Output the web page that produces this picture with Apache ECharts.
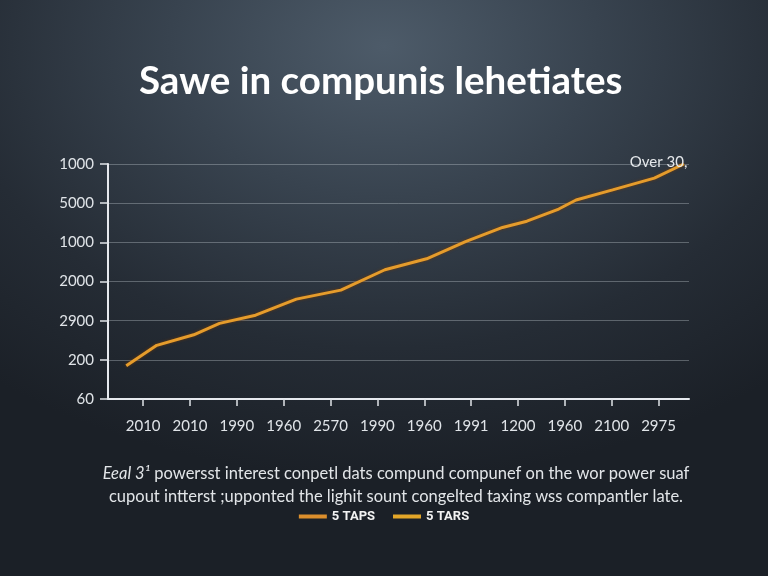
<!DOCTYPE html>
<html>
<head>
<meta charset="utf-8">
<script src="https://cdn.jsdelivr.net/npm/echarts@6/dist/echarts.min.js"></script>
<style>
html,body{margin:0;padding:0;width:768px;height:576px;overflow:hidden;
background:radial-gradient(ellipse 80% 75% at 50% 8%, #4d5b69 0%, #38434f 35%, #252c35 70%, #1b2027 100%);}
#c{width:768px;height:576px;}
</style>
</head>
<body>
<div id="c"></div>
<script>
// Tick labels (as printed in the reference)
const xLabels = ["2010","2010","1990","1960","2570","1990","1960","1991","1200","1960","2100","2975"];
const yLabels = ["60","200","2900","2000","1000","5000","1000"];
// Series "5 TAPS": [position along x categories, position along y scale]
const tapsX = [-0.36,0.29,1.08,1.63,2.40,3.27,4.22,5.16,6.05,6.88,7.67,8.19,8.87,9.24,10.02,10.91,11.54];
const tapsY = [0.85,1.37,1.64,1.93,2.14,2.55,2.78,3.30,3.58,4.02,4.38,4.54,4.85,5.08,5.34,5.64,6.00];
// Series "5 TARS" (legend only, no visible line)
const tarsY = [];
const titleText = "Sawe in compunis lehetiates";
const noteLine1 = "Eeal 3¹";
const noteLine1Rest = " powersst interest conpetl dats compund compunef on the wor power suaf";
const noteLine2 = "cupout intterst ;upponted the lighit sount congelted taxing wss compantler late.";
const endNote = "Over 30,";

const chart = echarts.init(document.getElementById('c'), null, {renderer:'canvas'});
const tapsData = tapsX.map((x,i)=>[x,tapsY[i]]);
const idx = xLabels.map((_,i)=>i);
chart.setOption({
  backgroundColor:'transparent',
  animation:false,
  title:{text:titleText, left:134, top:57,
    textStyle:{color:'#ffffff', fontSize:38.5, fontWeight:'bold', fontFamily:'Lato, sans-serif'}},
  graphic:[
    {type:'text', x:396, y:462, style:{
      text:'{i|'+noteLine1+'}'+noteLine1Rest+'\n'+noteLine2,
      rich:{i:{fontStyle:'italic', fontSize:16.5, fill:'#e2e5e8', fontFamily:'Lato, sans-serif'}},
      fill:'#e2e5e8', fontSize:16.5, lineHeight:23, align:'center', fontFamily:'Lato, sans-serif'}}
  ],
  legend:{bottom:48, left:'center', itemWidth:28, itemHeight:4, itemGap:18,
    icon:'rect',
    textStyle:{color:'#f2f2f2', fontSize:13, fontWeight:'bold', fontFamily:'Roboto, sans-serif'},
    data:['5 TAPS','5 TARS']},
  grid:{left:108, right:79, top:164, bottom:177, containLabel:false},
  xAxis:{type:'value', min:-0.75, max:11.65,
    axisLine:{show:true, onZero:false, lineStyle:{color:'#e6e9ee', width:2}},
    axisTick:{show:true, customValues:idx, length:7, lineStyle:{color:'#dfe3e8', width:1.5}},
    axisLabel:{show:true, customValues:idx, formatter:v=>xLabels[Math.round(v)],
      color:'#e0e4e8', fontSize:15, margin:20, fontFamily:'Lato, sans-serif'},
    splitLine:{show:false}},
  yAxis:{type:'value', min:0, max:6, interval:1,
    axisLine:{show:true, onZero:false, lineStyle:{color:'#e6e9ee', width:2}},
    axisTick:{show:true, length:8, lineStyle:{color:'#dfe3e8', width:1.5}},
    axisLabel:{formatter:v=>yLabels[Math.round(v)], color:'#e0e4e8', fontSize:15, margin:14,
      fontFamily:'Lato, sans-serif'},
    splitLine:{show:true, lineStyle:{color:'rgba(200,208,216,0.35)', width:1}}},
  series:[
    {name:'5 TAPS', type:'line', data:tapsData, showSymbol:false, symbol:'none',
      color:'#db8e2c',
      lineStyle:{color:'#e59c2c', width:3, shadowColor:'rgba(120,60,0,0.8)', shadowBlur:3},
      endLabel:{show:true, formatter:endNote, color:'#e6e9ec', fontSize:15,
        fontFamily:'Lato, sans-serif', distance:0, offset:[-54,-2]},
      z:5},
    {name:'5 TARS', type:'line', data:tarsY, color:'#e3a628', showSymbol:false}
  ]
});
</script>
</body>
</html>
